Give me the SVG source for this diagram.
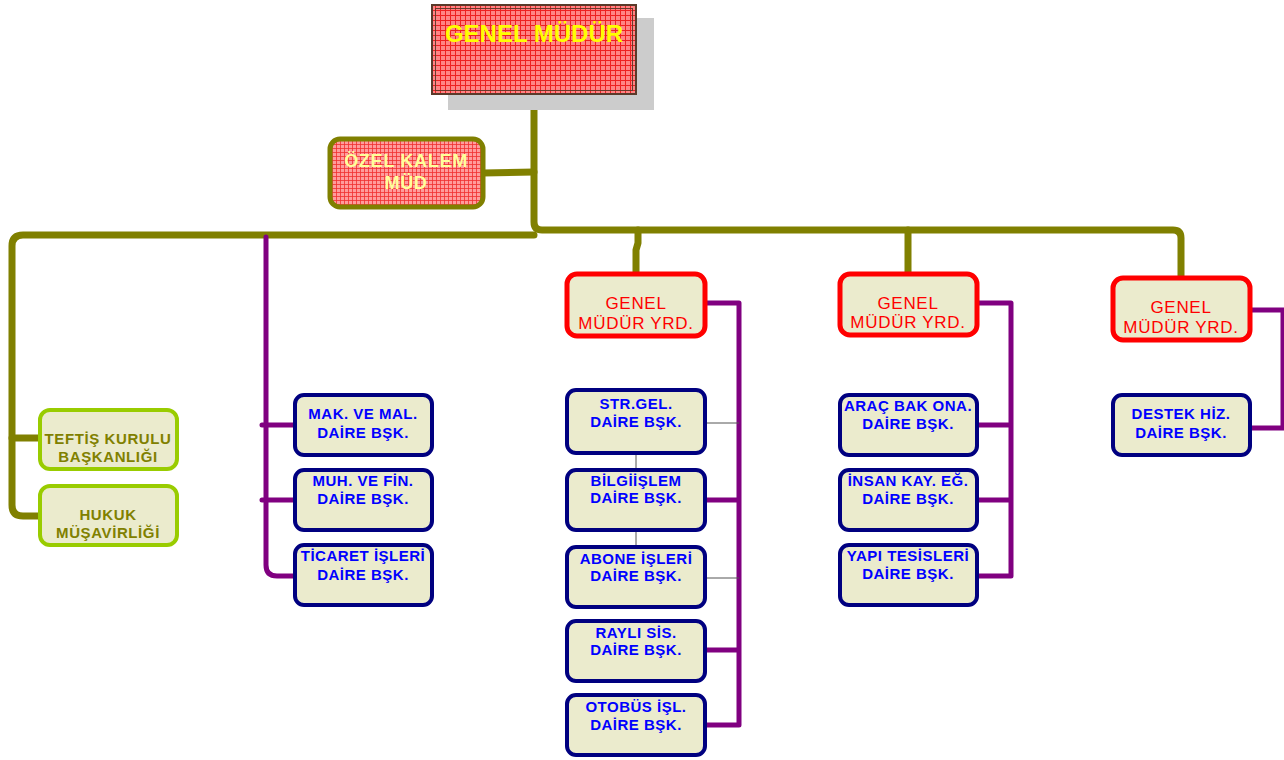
<svg xmlns="http://www.w3.org/2000/svg" width="1284" height="760" viewBox="0 0 1284 760">
<defs>
<pattern id="grid" width="5" height="5" patternUnits="userSpaceOnUse">
<rect width="5" height="5" fill="#ff8484"/>
<path d="M0 0.5H5M0.5 0V5" stroke="#ee2020" stroke-width="1"/>
</pattern>
<pattern id="grid2" width="4" height="4" patternUnits="userSpaceOnUse">
<rect width="4" height="4" fill="#ff9c9c"/>
<path d="M0 0.5H4M0.5 0V4" stroke="#f03030" stroke-width="0.8"/>
</pattern>
<style>
.ol{fill:none;stroke:#808000;stroke-width:7;stroke-linecap:round;stroke-linejoin:round}
.pu{fill:none;stroke:#800080;stroke-width:5;stroke-linecap:round;stroke-linejoin:round}
.gr{fill:none;stroke:#555;stroke-width:1}
.dept rect{fill:#ebebcd;stroke:#000080;stroke-width:4}
.dept text{fill:#0000ff;font-family:"Liberation Sans",Arial,sans-serif;font-weight:bold;font-size:15px;letter-spacing:0.5px;text-anchor:middle}
.gmy rect{fill:#ebebcd;stroke:#ff0000;stroke-width:5}
.gmy text{fill:#ff0000;font-family:"Liberation Sans",Arial,sans-serif;font-size:17px;letter-spacing:0.7px;text-anchor:middle}
.adv rect{fill:#ebebcd;stroke:#99cc00;stroke-width:4}
.adv text{fill:#808000;font-family:"Liberation Sans",Arial,sans-serif;font-weight:bold;font-size:15px;letter-spacing:0.6px;text-anchor:middle}
</style>
</defs>
<rect width="1284" height="760" fill="#fff"/>

<g id="connectors">
<path class="ol" d="M534 94V222Q534 230 542 230H1173Q1181 230 1181 238V278"/>
<path class="ol" d="M534 235H23Q12 235 12 246V505Q12 516 23 516H40"/>
<path class="ol" d="M12 438H42"/>
<path class="ol" d="M483 173L534 172"/>
<path class="ol" d="M638 230V243L636 250V274"/>
<path class="ol" d="M908 230V274"/>
<path class="pu" d="M266 237V565Q266 576 277 576H295"/>
<path class="pu" d="M262 425H295M262 500H295"/>
<path class="pu" d="M705 303H739V725H705M705 500H739M705 650H739"/>
<path class="pu" d="M977 303H1011V576H977M977 425H1011M977 500H1011"/>
<path class="pu" d="M1250 310H1284M1250 428H1284M1283 310V428"/>
<path class="gr" d="M705 423H739M705 578H739M636 455V470M636 530V547"/>
</g>

<g id="genel-mudur">
<rect x="448" y="18" width="206" height="92" fill="#cccccc"/>
<rect x="432" y="5" width="204" height="89" fill="url(#grid)" stroke="#5a3a2a" stroke-width="2"/>
<rect x="435.5" y="8.5" width="197" height="82" fill="none" stroke="#6a3a2a" stroke-width="1"/>
<text x="534" y="42" fill="#ffff00" font-family="Liberation Sans,Arial,sans-serif" font-weight="bold" font-size="24" text-anchor="middle">GENEL MÜDÜR</text>
</g>

<g id="ozel-kalem">
<rect x="330" y="139" width="153" height="68" rx="10" fill="url(#grid2)" stroke="#808000" stroke-width="5"/>
<text x="406" y="167" fill="#ffff99" font-family="Liberation Sans,Arial,sans-serif" font-weight="bold" font-size="18" letter-spacing="0.7" text-anchor="middle">ÖZEL KALEM</text>
<text x="406" y="189" fill="#ffff99" font-family="Liberation Sans,Arial,sans-serif" font-weight="bold" font-size="18" letter-spacing="0.7" text-anchor="middle">MÜD</text>
</g>

<g id="teftis" class="adv">
<rect x="40" y="410" width="137" height="59" rx="10"/>
<text x="108" y="444">TEFTİŞ KURULU</text>
<text x="108" y="462">BAŞKANLIĞI</text>
</g>
<g id="hukuk" class="adv">
<rect x="40" y="486" width="137" height="59" rx="10"/>
<text x="108" y="520">HUKUK</text>
<text x="108" y="538">MÜŞAVİRLİĞİ</text>
</g>

<g id="mak" class="dept">
<rect x="295" y="395" width="137" height="60" rx="9"/>
<text x="363" y="419">MAK. VE MAL.</text>
<text x="363" y="438">DAİRE BŞK.</text>
</g>
<g id="muh" class="dept">
<rect x="295" y="470" width="137" height="60" rx="9"/>
<text x="363" y="486">MUH. VE FİN.</text>
<text x="363" y="504">DAİRE BŞK.</text>
</g>
<g id="ticaret" class="dept">
<rect x="295" y="545" width="137" height="60" rx="9"/>
<text x="363" y="561">TİCARET İŞLERİ</text>
<text x="363" y="580">DAİRE BŞK.</text>
</g>

<g id="gmy1" class="gmy">
<rect x="567" y="274" width="138" height="62" rx="10"/>
<text x="636" y="309">GENEL</text>
<text x="636" y="329">MÜDÜR YRD.</text>
</g>
<g id="str" class="dept">
<rect x="567" y="390" width="138" height="63" rx="9"/>
<text x="636" y="409">STR.GEL.</text>
<text x="636" y="427">DAİRE BŞK.</text>
</g>
<g id="bilgi" class="dept">
<rect x="567" y="470" width="138" height="60" rx="9"/>
<text x="636" y="486">BİLGİİŞLEM</text>
<text x="636" y="503">DAİRE BŞK.</text>
</g>
<g id="abone" class="dept">
<rect x="567" y="547" width="138" height="60" rx="9"/>
<text x="636" y="564">ABONE İŞLERİ</text>
<text x="636" y="581">DAİRE BŞK.</text>
</g>
<g id="rayli" class="dept">
<rect x="567" y="621" width="138" height="60" rx="9"/>
<text x="636" y="638">RAYLI SİS.</text>
<text x="636" y="655">DAİRE BŞK.</text>
</g>
<g id="otobus" class="dept">
<rect x="567" y="695" width="138" height="60" rx="9"/>
<text x="636" y="712">OTOBÜS İŞL.</text>
<text x="636" y="730">DAİRE BŞK.</text>
</g>

<g id="gmy2" class="gmy">
<rect x="840" y="274" width="137" height="61" rx="10"/>
<text x="908" y="309">GENEL</text>
<text x="908" y="328">MÜDÜR YRD.</text>
</g>
<g id="arac" class="dept">
<rect x="840" y="395" width="137" height="60" rx="9"/>
<text x="908" y="411">ARAÇ BAK ONA.</text>
<text x="908" y="429">DAİRE BŞK.</text>
</g>
<g id="insan" class="dept">
<rect x="840" y="470" width="137" height="60" rx="9"/>
<text x="908" y="486">İNSAN KAY. EĞ.</text>
<text x="908" y="504">DAİRE BŞK.</text>
</g>
<g id="yapi" class="dept">
<rect x="840" y="545" width="137" height="60" rx="9"/>
<text x="908" y="561">YAPI TESİSLERİ</text>
<text x="908" y="579">DAİRE BŞK.</text>
</g>

<g id="gmy3" class="gmy">
<rect x="1113" y="278" width="137" height="62" rx="10"/>
<text x="1181" y="313">GENEL</text>
<text x="1181" y="333">MÜDÜR YRD.</text>
</g>
<g id="destek" class="dept">
<rect x="1113" y="395" width="137" height="60" rx="9"/>
<text x="1181" y="419">DESTEK HİZ.</text>
<text x="1181" y="438">DAİRE BŞK.</text>
</g>
</svg>
